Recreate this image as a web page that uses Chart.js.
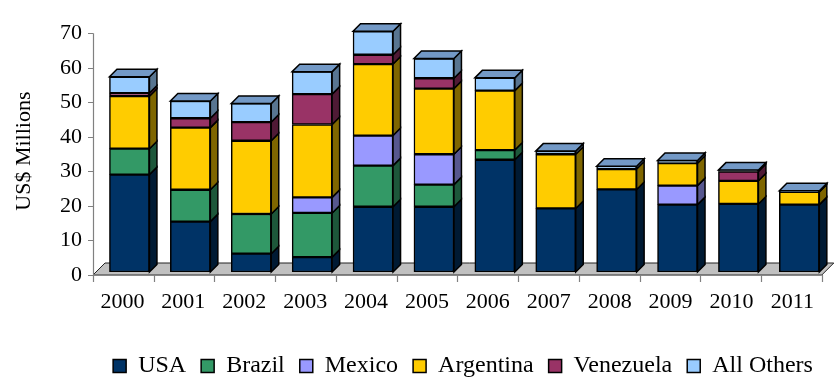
<!DOCTYPE html>
<html><head><meta charset="utf-8">
<script src="https://cdn.jsdelivr.net/npm/chart.js@4"></script>
<style>html,body{margin:0;padding:0;background:#fff}#wrap{width:838px;height:379px;position:relative}</style>
</head><body><div id="wrap"><canvas id="c"></canvas></div>
<script>
const years = ['2000','2001','2002','2003','2004','2005','2006','2007','2008','2009','2010','2011'];
const usa       = [28.2, 14.6, 5.3, 4.3, 18.9, 18.9, 32.5, 18.4, 23.9, 19.5, 19.7, 19.5];
const brazil    = [7.5, 9.2, 11.5, 12.8, 11.9, 6.4, 2.8, null, null, null, null, null];
const mexico    = [null, null, null, 4.5, 8.7, 8.8, null, null, null, 5.5, null, null];
const argentina = [15.2, 18.0, 21.2, 21.1, 20.7, 19.0, 17.2, 15.7, 5.9, 6.5, 6.7, 3.7];
const venezuela = [0.9, 2.7, 5.4, 8.8, 2.7, 3.0, null, null, null, null, 2.7, null];
const allOthers = [4.7, 5.0, 5.4, 6.5, 6.8, 5.7, 3.7, 0.9, 0.8, 0.8, 0.4, 0.3];
const yTicks = [0, 10, 20, 30, 40, 50, 60, 70];

const seriesNames = ['USA','Brazil','Mexico','Argentina','Venezuela','All Others'];
const seriesData = [usa, brazil, mexico, argentina, venezuela, allOthers];
const frontColors = ['#003366','#339966','#9999FF','#FFCC00','#993366','#99CCFF'];
const sideColors  = ['#001a33','#1d573a','#57578f','#7f6600','#4f1a35','#587591'];
const topColors   = ['#00264d','#2a7d53','#7a7acc','#ccaa00','#7a2952','#7399c6'];

Chart.defaults.font.family = "'Liberation Serif', 'Times New Roman', serif";
Chart.defaults.color = '#000';

const DEPTH = 7.5;
const threeD = {
  id: 'threeD',
  afterLayout(chart) {
    const lg = chart.legend;
    const dx = 45, dy = 9;
    lg.left += dx; lg.right += dx; lg.top += dy; lg.bottom += dy;
  },
  beforeDatasetsDraw(chart) {
    const {ctx, chartArea: {left, right, bottom}, scales: {y}} = chart;
    const fx0 = left - 6, fx1 = right - 8, fy = bottom + 3, D = 12;
    ctx.save();
    ctx.beginPath();
    ctx.moveTo(fx0, fy); ctx.lineTo(fx1, fy); ctx.lineTo(fx1 + D, fy - D); ctx.lineTo(fx0 + D, fy - D); ctx.closePath();
    ctx.fillStyle = '#c0c0c0'; ctx.fill();
    ctx.strokeStyle = '#222'; ctx.lineWidth = 1; ctx.stroke();
    ctx.strokeStyle = '#808080'; ctx.lineWidth = 1.2;
    ctx.beginPath();
    ctx.moveTo(fx0, fy); ctx.lineTo(fx1, fy);
    const n = chart.data.labels.length;
    for (let k = 0; k <= n; k++) {
      const xk = Math.round(fx0 + (fx1 - fx0) * k / n) + 0.5;
      ctx.moveTo(xk, fy); ctx.lineTo(xk, fy + 7);
    }
    const yTop = y.getPixelForValue(yTicks[yTicks.length - 1]) + 3;
    ctx.moveTo(fx0 + 0.5, fy); ctx.lineTo(fx0 + 0.5, yTop);
    yTicks.forEach(v => {
      const py = Math.round(y.getPixelForValue(v) + 3) + 0.5;
      ctx.moveTo(fx0 - 5, py); ctx.lineTo(fx0, py);
    });
    ctx.stroke();
    ctx.restore();
  },
  afterDatasetsDraw(chart) {
    const {ctx} = chart;
    const d = DEPTH;
    ctx.save();
    ctx.lineWidth = 1.5; ctx.strokeStyle = '#000'; ctx.lineJoin = 'miter';
    const topIdx = years.map((_, j) => {
      let t = -1;
      seriesData.forEach((arr, i) => { if (arr[j]) t = i; });
      return t;
    });
    chart.data.datasets.forEach((ds, i) => {
      const meta = chart.getDatasetMeta(i);
      meta.data.forEach((bar, j) => {
        if (!ds.data[j]) return;
        const p = bar.getProps(['x', 'y', 'base', 'width'], true);
        const r = p.x + p.width / 2, l = p.x - p.width / 2;
        ctx.beginPath();
        ctx.moveTo(r, p.y); ctx.lineTo(r + d, p.y - d); ctx.lineTo(r + d, p.base - d); ctx.lineTo(r, p.base); ctx.closePath();
        ctx.fillStyle = sideColors[i]; ctx.fill(); ctx.stroke();
        if (topIdx[j] === i) {
          ctx.beginPath();
          ctx.moveTo(l, p.y); ctx.lineTo(l + d, p.y - d); ctx.lineTo(r + d, p.y - d); ctx.lineTo(r, p.y); ctx.closePath();
          ctx.fillStyle = topColors[i]; ctx.fill(); ctx.stroke();
        }
      });
    });
    ctx.restore();
  }
};

new Chart(document.getElementById('c'), {
  type: 'bar',
  data: {
    labels: years,
    datasets: seriesNames.map((name, i) => ({
      label: name,
      data: seriesData[i],
      backgroundColor: frontColors[i],
      borderColor: '#000',
      borderWidth: 1.5,
      borderSkipped: false,
      barThickness: 40
    }))
  },
  options: {
    responsive: true,
    maintainAspectRatio: false,
    animation: false,
    devicePixelRatio: 1,
    layout: { padding: { top: 15, right: 2, bottom: 0, left: 0 } },
    plugins: {
      legend: {
        position: 'bottom',
        labels: { font: { size: 24 }, color: '#000', boxWidth: 13, boxHeight: 13, padding: 15 }
      },
      tooltip: { enabled: false }
    },
    scales: {
      x: {
        stacked: true,
        grid: { display: false, drawTicks: false },
        border: { display: false },
        ticks: { font: { size: 22 }, color: '#000', padding: 17, labelOffset: -7, maxRotation: 0 },
        afterFit(s) { s.height = s.chart.height - 272 - s.chart.legend.height; }
      },
      y: {
        stacked: true,
        min: 0, max: 70,
        grid: { display: false, drawTicks: false },
        border: { display: false },
        ticks: { stepSize: 10, font: { size: 22 }, color: '#000', padding: 17, labelOffset: 3 },
        title: { display: true, text: 'US$ Millions', font: { size: 22 }, color: '#000', padding: { top: 11, bottom: 0 } },
        afterFit(s) { s.width = 99; }
      }
    }
  },
  plugins: [threeD]
});
</script>
</body></html>
